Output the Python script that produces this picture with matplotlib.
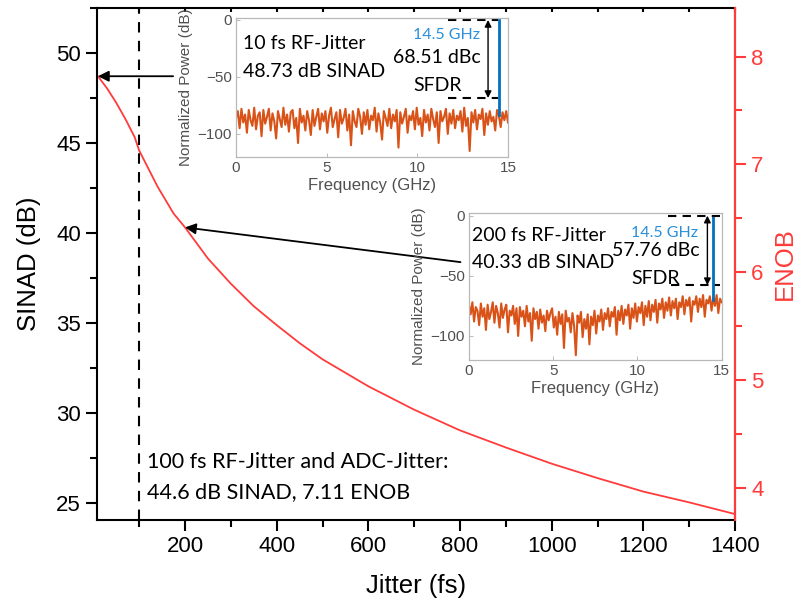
import numpy as np
import matplotlib.pyplot as plt
from matplotlib.ticker import MultipleLocator

plt.rcParams['font.family'] = 'Liberation Sans'

# SINAD vs. RF jitter (simulation)
jitter = [10, 30, 50, 70, 90, 100, 120, 140, 175, 200, 250, 300, 350, 400, 450,
          500, 600, 700, 800, 900, 1000, 1100, 1200, 1300, 1400]
sinad = [48.73, 48.05, 47.25, 46.35, 45.35, 44.6, 43.6, 42.6, 41.1, 40.33, 38.6, 37.2,
         35.95, 34.9, 33.9, 33.0, 31.5, 30.2, 29.05, 28.1, 27.2, 26.4, 25.65, 25.05, 24.4]

# spectrum with 10 fs RF jitter (dB, 0-15 GHz)
spec10 = [
    -86, -80, -95, -78, -90, -83, -99, -79, -88, -93, -77, -96, -84, -81, -102,
    -79, -91, -85, -78, -97, -82, -89, -104, -80, -87, -94, -77, -92, -83, -98,
    -81, -79, -95, -86, -108, -78, -90, -84, -97, -80, -88, -101, -79, -93, -85,
    -78, -96, -82, -89, -80, -99, -84, -77, -94, -87, -81, -103, -79, -91, -86,
    -78, -97, -83, -110, -80, -89, -94, -78, -85, -100, -81, -92, -79, -96, -84,
    -88, -77, -98, -82, -90, -105, -80, -86, -93, -78, -95, -83, -89, -79, -112,
    -81, -91, -85, -78, -99, -84, -88, -80, -96, -77, -92, -86, -102, -79, -90,
    -83, -97, -78, -87, -94, -81, -108, -80, -89, -85, -78, -100, -82, -91, -79,
    -95, -84, -88, -80, -98, -77, -93, -86, -115, -81, -90, -79, -96, -83, -87,
    -78, -101, -82, -92, -80, -89, -85, -97, -79, -84, -94, -81, -88, -80, -90,
]

# spectrum with 200 fs RF jitter (dB, 0-15 GHz)
spec200 = [
    -74, -82, -72, -88, -76, -79, -91, -73, -84, -77, -95, -74, -86, -80, -72,
    -89, -75, -81, -93, -73, -85, -78, -74, -97, -79, -83, -75, -90, -77, -100,
    -76, -84, -79, -92, -75, -88, -81, -104, -77, -86, -80, -94, -78, -89, -83,
    -96, -79, -87, -81, -77, -93, -84, -99, -80, -90, -82, -110, -79, -88, -85,
    -97, -81, -92, -116, -83, -89, -80, -101, -86, -94, -82, -107, -84, -91, -79,
    -98, -83, -88, -78, -95, -81, -86, -77, -92, -80, -84, -76, -99, -79, -87,
    -75, -90, -78, -83, -74, -94, -77, -85, -73, -88, -76, -81, -72, -91, -75,
    -84, -71, -87, -74, -80, -70, -89, -73, -78, -69, -85, -72, -79, -68, -83,
    -71, -77, -69, -86, -72, -76, -67, -82, -70, -75, -68, -88, -71, -74, -67,
    -80, -69, -76, -66, -84, -70, -73, -67, -79, -68, -75, -66, -81, -69, -72,
]

tone_ghz = 14.5
sfdr10 = 68.51
sfdr200 = 57.76
dc10 = (-60, -88)
dc200 = (-60, -80)

red = '#ff3b3b'
orange = '#d95319'
blue = '#0072bd'
gray = '#505050'

fig = plt.figure(figsize=(7.98, 6.08), dpi=100)
ax = fig.add_axes([0.1216, 0.1447, 0.7995, 0.8421])

ax.plot(jitter, sinad, color=red, lw=1.3)
ax.axvline(100, color='k', ls=(0, (5, 4)), lw=1.5)

ax.set_xlim(8, 1400)
ax.set_ylim(24.07, 52.52)
ax.xaxis.set_major_locator(MultipleLocator(200))
ax.xaxis.set_minor_locator(MultipleLocator(100))
ax.yaxis.set_major_locator(MultipleLocator(5))
ax.yaxis.set_minor_locator(MultipleLocator(2.5))
ax.tick_params(which='major', direction='out', length=8, width=1.5, labelsize=16)
ax.tick_params(which='minor', direction='out', length=5, width=1.5)
ax.tick_params(which='both', top=True)
# short inward marks along the top spine
for t in ax.xaxis.get_ticklines(minor=False)[1::2] + ax.xaxis.get_ticklines(minor=True)[1::2]:
    t.set_marker(3)
    t.set_markersize(3)
ax.set_xlabel('Jitter (fs)', fontsize=18.5, labelpad=12)
ax.set_ylabel('SINAD (dB)', fontsize=18.5, labelpad=11)
for s in ax.spines.values():
    s.set_linewidth(1.5)

# ENOB axis
ax2 = ax.twinx()
ax2.set_ylim(3.70, 8.45)
ax2.yaxis.set_major_locator(MultipleLocator(1))
ax2.yaxis.set_minor_locator(MultipleLocator(0.5))
ax2.tick_params(which='major', direction='out', length=8, width=1.5, labelsize=16,
                colors=red)
ax2.tick_params(which='minor', direction='out', length=5, width=1.5, colors=red)
ax2.set_ylabel('ENOB', fontsize=18.5, color=red, labelpad=7)
for k in ['left', 'top', 'bottom']:
    ax2.spines[k].set_visible(False)
ax2.spines['right'].set_color(red)
ax2.spines['right'].set_linewidth(1.5)

ax.text(117, 27.3, '100 fs RF-Jitter and ADC-Jitter:', family='Lato', fontsize=15.5,
        va='center')
ax.text(117, 25.6, '44.6 dB SINAD, 7.11 ENOB', family='Lato', fontsize=15.5,
        va='center')

arrow = dict(arrowstyle='-|>', color='k', lw=1.3, mutation_scale=16,
             shrinkA=0, shrinkB=0)
ax.annotate('', xy=(jitter[0], sinad[0]), xytext=(174, sinad[0]), arrowprops=arrow)
ax.annotate('', xy=(200, sinad[9]), xytext=(801, 38.4), arrowprops=arrow)


def spectrum_inset(rect, spec, dc, sfdr, jit_text, sinad_text, txt_pos, dash_x):
    ins = fig.add_axes(rect)
    freq = np.linspace(0, 15, len(spec))
    ins.plot(freq, spec, color=orange, lw=1.5)
    ins.plot([0, 0], dc, color='k', lw=1.3)
    ins.plot([tone_ghz, tone_ghz], [max(spec[-12:]) - 4, 0], color=blue, lw=2)
    ins.plot(dash_x[0], [0, 0], color='k', ls=(0, (4, 3)), lw=1.5)
    ins.plot(dash_x[1], [-sfdr, -sfdr], color='k', ls=(0, (4, 3)), lw=1.5)
    ins.annotate('', xy=(txt_pos['arrow'], -sfdr), xytext=(txt_pos['arrow'], 0),
                 arrowprops=dict(arrowstyle='<|-|>', color='k', lw=1.0,
                                 mutation_scale=10, shrinkA=0, shrinkB=0))
    ins.set_xlim(0, 15)
    ins.set_ylim(-120, 2)
    ins.set_xticks([0, 5, 10, 15])
    ins.set_yticks([-100, -50, 0])
    ins.tick_params(direction='in', length=3, width=0.6, colors='#b0b0b0',
                    labelcolor=gray, labelsize=11, pad=3)
    for s in ins.spines.values():
        s.set_color('#b8b8b8')
        s.set_linewidth(0.9)
    ins.set_xlabel('Frequency (GHz)', fontsize=12, color=gray, labelpad=2)
    ins.set_ylabel('Normalized Power (dB)', fontsize=11, color=gray, labelpad=3)
    ins.text(txt_pos['x0'], txt_pos['y1'], jit_text, family='Lato', fontsize=14,
             va='center')
    ins.text(txt_pos['x0'], txt_pos['y2'], sinad_text, family='Lato', fontsize=14,
             va='center')
    ins.text(txt_pos['ghz_x'], txt_pos['ghz_y'], '14.5 GHz', family='Lato',
             fontsize=11.5, color='#2a8fd8', ha='right', va='center')
    ins.text(11.1, txt_pos['dbc_y'], f'{sfdr:.2f} dBc', family='Lato', fontsize=14,
             ha='center', va='center')
    ins.text(11.1, txt_pos['sfdr_y'], 'SFDR', family='Lato', fontsize=14,
             ha='center', va='center')
    return ins


spectrum_inset([0.2957, 0.7423, 0.3409, 0.2286], spec10, dc10, sfdr10,
               '10 fs RF-Jitter', '48.73 dB SINAD',
               dict(x0=0.4, y1=-20.5, y2=-45, ghz_x=13.45, ghz_y=-13.5,
                    dbc_y=-33, sfdr_y=-57.5, arrow=13.9),
               ([11.7, 14.45], [11.7, 14.45]))

spectrum_inset([0.5877, 0.4079, 0.3167, 0.2413], spec200, dc200, sfdr200,
               '200 fs RF-Jitter', '40.33 dB SINAD',
               dict(x0=0.2, y1=-16.7, y2=-39, ghz_x=13.6, ghz_y=-14,
                    dbc_y=-29, sfdr_y=-52, arrow=14.15),
               ([11.8, 14.9], [12.0, 14.9]))

fig.savefig('out.png', dpi=100)
